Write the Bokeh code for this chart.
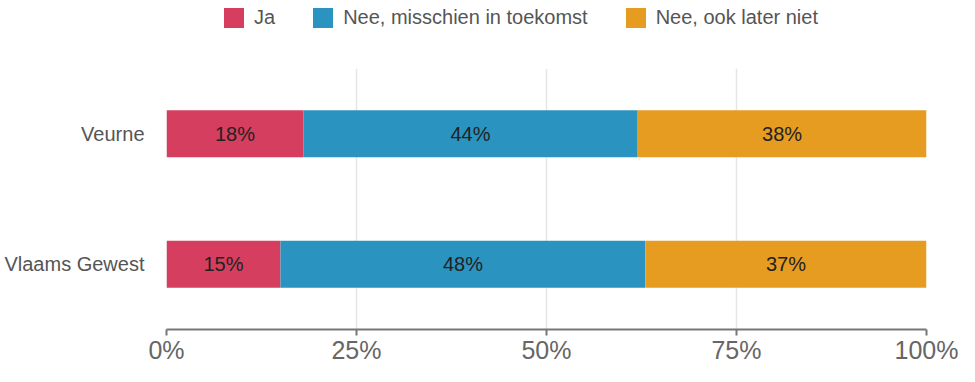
from bokeh.plotting import figure
from bokeh.layouts import column
from bokeh.models import ColumnDataSource, FactorRange, Range1d, Legend, LegendItem, FixedTicker, CustomJSTickFormatter
from bokeh.embed import file_html
from bokeh.resources import INLINE
from bokeh.core.properties import value

regions = ["Veurne", "Vlaams Gewest"]
series = ["Ja", "Nee, misschien in toekomst", "Nee, ook later niet"]
ja = [18, 15]
misschien = [44, 48]
later_niet = [38, 37]
colors = ["#d53e5e", "#2a93bf", "#e69c20"]
x_ticks = [0, 25, 50, 75, 100]

values = [ja, misschien, later_niet]

# ---- legend strip (frame is aligned with the chart frame by the column layout) ----
lg = figure(width=959, height=36, output_backend="svg", toolbar_location=None,
            x_range=Range1d(0, 1), y_range=Range1d(0, 1),
            x_axis_location=None, y_axis_location=None,
            min_border_left=0, min_border_right=0, min_border_top=0, min_border_bottom=0)
lg.outline_line_color = None
lg.xgrid.grid_line_color = None
lg.ygrid.grid_line_color = None
swatches = []
for col in colors:
    # off-screen placeholder so the legend swatch is drawn
    swatches.append(lg.hbar(y=[-5], left=[-5], right=[-4], height=0.5,
                            fill_color=col, line_color=None))
legend = Legend(items=[LegendItem(label=s, renderers=[r]) for s, r in zip(series, swatches)],
                orientation="horizontal", location=(55, 6), padding=0, margin=0,
                spacing=35, label_standoff=8, glyph_width=25, glyph_height=25,
                label_text_font="Liberation Sans", label_text_font_size="20px",
                label_text_color="#555555", border_line_color=None,
                background_fill_alpha=0)
lg.add_layout(legend, "center")

# ---- main chart ----
p = figure(width=959, height=330, output_backend="svg", toolbar_location=None,
           y_range=FactorRange(factors=list(reversed(regions)), range_padding=0),
           x_range=Range1d(0, 100),
           min_border_left=166, min_border_right=33, min_border_top=32, min_border_bottom=30)
p.outline_line_color = None

for k, (name, vals, col) in enumerate(zip(series, values, colors)):
    left = [sum(values[j][i] for j in range(k)) for i in range(len(regions))]
    right = [l + v for l, v in zip(left, vals)]
    mid = [(l + r) / 2 for l, r in zip(left, right)]
    labels = [f"{v}%" for v in vals]
    src = ColumnDataSource(dict(y=regions, left=left, right=right, mid=mid, label=labels))
    p.hbar(y="y", left="left", right="right", height=0.36, source=src,
           fill_color=col, line_color=None)
    p.text(x="mid", y="y", text="label", source=src, text_align="center",
           text_baseline="middle", text_font=value("Liberation Sans"),
           text_font_size="20px", text_color="#222222")

p.xgrid.ticker = FixedTicker(ticks=x_ticks)
p.xgrid.grid_line_color = "#e6e6e6"
p.xgrid.grid_line_width = 1.5
p.ygrid.grid_line_color = None

xa = p.xaxis[0]
xa.ticker = FixedTicker(ticks=x_ticks)
xa.formatter = CustomJSTickFormatter(code="return tick + '%';")
xa.axis_line_color = "#777777"
xa.axis_line_width = 2
xa.major_tick_line_color = "#777777"
xa.major_tick_line_width = 2
xa.major_tick_out = 6
xa.major_tick_in = 0
xa.minor_tick_line_color = None
xa.major_label_standoff = 0
xa.major_label_text_font = "Liberation Sans"
xa.major_label_text_font_size = "25px"
xa.major_label_text_color = "#666666"

ya = p.yaxis[0]
ya.axis_line_color = None
ya.major_tick_line_color = None
ya.minor_tick_line_color = None
ya.major_label_standoff = 16
ya.major_label_text_font = "Liberation Sans"
ya.major_label_text_font_size = "20px"
ya.major_label_text_color = "#555555"

layout = column(lg, p, spacing=0)
open("out.html", "w").write(file_html(layout, INLINE))
